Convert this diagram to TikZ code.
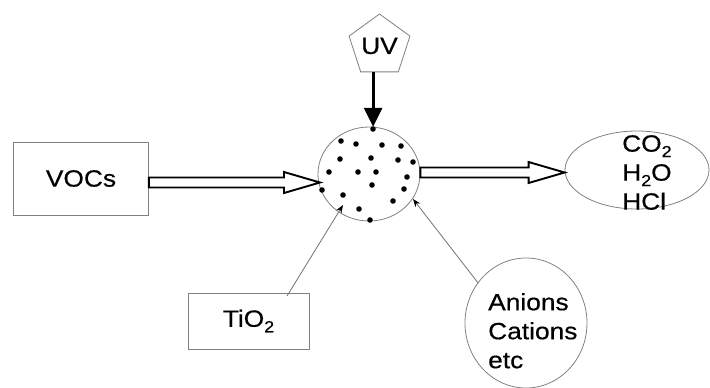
\documentclass[tikz,border=0pt]{standalone}
\usepackage{fontspec}
\setmainfont{Liberation Sans}[FakeStretch=1.12,FakeBold=0.5]
\usetikzlibrary{shapes.geometric,arrows.meta,calc}

\tikzset{
  thinbox/.style={draw=black!50, line width=0.8pt, rectangle, inner sep=0pt},
  thinoval/.style={draw=black!50, line width=0.8pt, ellipse, inner sep=0pt},
  label text/.style={font=\fontsize{23.5}{29}\selectfont, inner sep=0pt, align=left},
  hollow/.style={draw=black, line width=1.9pt, fill=white, line join=miter},
  uvarrow/.style={draw=black, line width=3pt, -{Triangle[length=19pt,width=18pt]}},
  feedline/.style={draw=black!55, line width=0.8pt, -{Stealth[length=8pt,width=6pt,color=black]}},
  dot/.style={fill=black}
}

% chemical subscript
\newcommand\chemsub[1]{\raisebox{-5.5pt}{\fontsize{16}{16}\selectfont #1}}

% horizontal hollow block arrow from #1 to the tip #2
\newcommand\hollowarrow[2]{%
  \draw[hollow] let \p1=(#1), \p2=(#2) in
    (\x1,\y1+5pt) -- (\x2-36pt,\y1+5pt) -- (\x2-36pt,\y1+10.5pt) -- (\x2,\y1)
    -- (\x2-36pt,\y1-10.5pt) -- (\x2-36pt,\y1-5pt) -- (\x1,\y1-5pt) -- cycle;}

\begin{document}
\begin{tikzpicture}[x=1pt,y=-1pt]
\useasboundingbox (0,0) rectangle (710,388);

% boxes and ovals
\node[thinbox, minimum width=135pt, minimum height=73pt, label text] (voc) at (81,178.5) {VOCs};
\node[draw=black!50, line width=0.8pt, regular polygon, regular polygon sides=5,
      minimum size=64pt, inner sep=0pt, label text] (uv) at (379.5,46) {UV};
\node[thinoval, minimum width=102pt, minimum height=94pt] (cat) at (369,174) {};
\node[thinoval, minimum width=144pt, minimum height=78pt] (out) at (637,170) {};
\node[label text, anchor=north west] (outtxt) at (622,135)
  {CO\chemsub{2}\\H\chemsub{2}O\\HCl};
\node[thinbox, minimum width=121pt, minimum height=56pt, label text] (tio) at (248.5,321)
  {TiO\chemsub{2}};
\node[thinoval, minimum width=122pt, minimum height=130pt] (ion) at (526,323) {};
\node[label text, anchor=north west] (iontxt) at (488,293) {Anions\\Cations\\etc};

% catalyst particles
\foreach \px/\py in {373/129,341/141,356/144,382/145,401/146,340/159,371/158,398/160,
  413/162,329/172,358/172,376/172,407/177,372/185,404/189,322/190,343/195,393/201,
  359/209,370/220}
  \fill[dot] (\px,\py) circle (2.8pt);

% UV irradiation
\draw[uvarrow] (uv.south -| cat.85) -- (cat.85);

% reactant in, products out
\coordinate (vocOut) at ($(voc.east)+(0,4)$);
\coordinate (catIn) at (320,182.5);
\hollowarrow{vocOut}{catIn}
\coordinate (catOut) at (cat.east |- 0,172.5);
\coordinate (outIn) at (out.west |- catOut);
\hollowarrow{catOut}{outIn}

% catalyst and ions feeding the particle cloud
\coordinate (tioStart) at (287,296);
\coordinate (tioTip) at (343,205);
\draw[feedline] (tioStart) -- (tioTip);
\coordinate (ionTip) at (413,199);
\draw[feedline] (ion.140) -- (ionTip);
\end{tikzpicture}
\end{document}
